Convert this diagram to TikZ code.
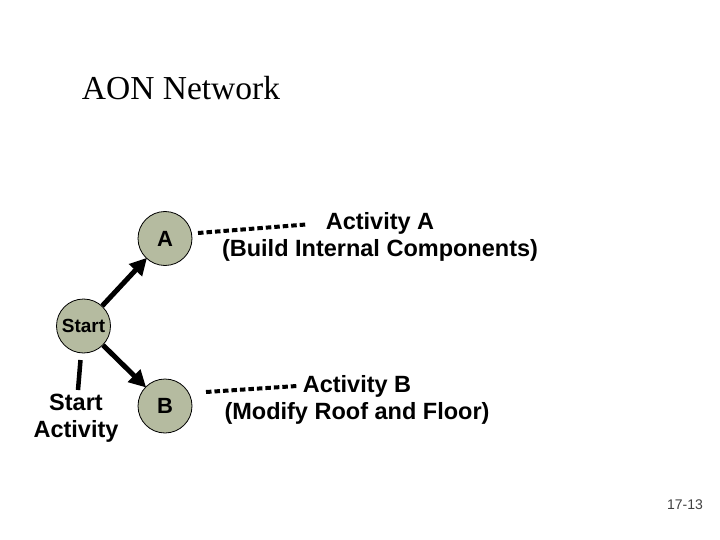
\documentclass[tikz,border=0pt]{standalone}
\usepackage{fontspec}
\setmainfont{Liberation Sans}
\newfontfamily\titlefont{Liberation Serif}
\usetikzlibrary{arrows.meta}
\definecolor{nodefill}{RGB}{181,187,160}
\tikzset{
  actnode/.style={circle, draw=black, line width=0.8pt, fill=nodefill, minimum size=54pt, inner sep=0pt},
  lbl/.style={font=\fontsize{23.5}{27}\selectfont\bfseries, align=center, inner sep=0pt},
  flow/.style={line width=5pt, -{Triangle[length=17pt,width=17pt]}, shorten >=-1pt},
  dotline/.style={line width=4pt, dash pattern=on 5.5pt off 3pt},
  tick/.style={line width=4.5pt}
}
\begin{document}
\begin{tikzpicture}[x=1pt,y=-1pt]
\useasboundingbox (0,0) rectangle (720,540);
\fill[white] (0,0) rectangle (720,540);
\node[font=\titlefont\fontsize{33.5}{36}\selectfont, inner sep=0pt] (title) at (181,88) {AON Network};
\node[actnode, font=\fontsize{19}{22}\selectfont\bfseries] (start) at (83.5,326) {Start};
\node[actnode, font=\fontsize{22}{24}\selectfont\bfseries] (A) at (165,238.5) {A};
\node[actnode, font=\fontsize{22}{24}\selectfont\bfseries] (B) at (165,406) {B};
\draw[flow] (start) -- (A);
\draw[flow] (start) -- (B);
\node[lbl] (actA) at (380,237) {Activity A\\(Build Internal Components)};
\node[lbl] (actB) at (357,400) {Activity B\\(Modify Roof and Floor)};
\node[lbl] (startlbl) at (76,418) {Start\\Activity};
\coordinate (a1) at (198,233);
\coordinate (a2) at (306,224.5);
\coordinate (b1) at (206,392);
\coordinate (b2) at (297,386);
\coordinate (s1) at (80.5,360);
\coordinate (s2) at (78,390);
\draw[dotline] (a1) -- (a2);
\draw[dotline] (b1) -- (b2);
\draw[tick] (s1) -- (s2);
\node[font=\fontsize{14}{16}\selectfont, inner sep=0pt, text=black!75] (page) at (685,505) {17-13};
\end{tikzpicture}
\end{document}
